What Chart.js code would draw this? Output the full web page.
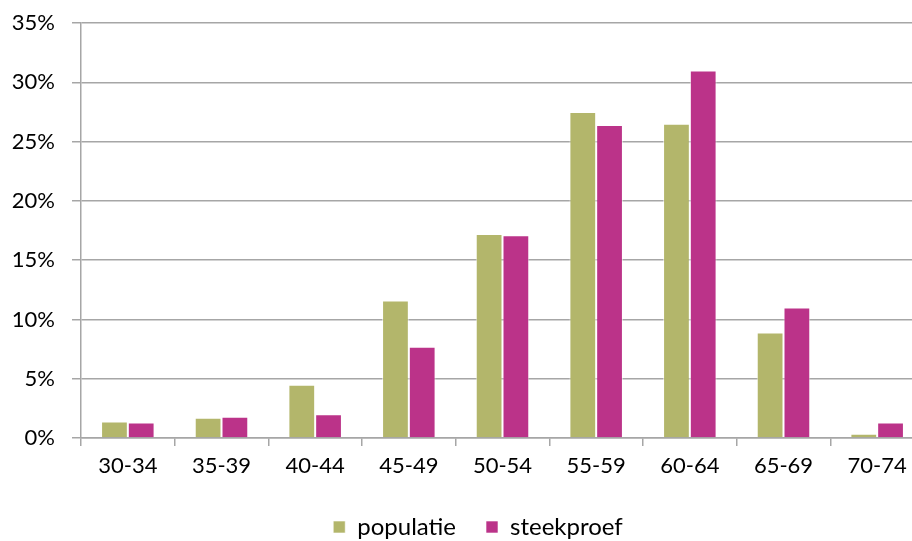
<!DOCTYPE html>
<html>
<head>
<meta charset="utf-8">
<script src="https://cdn.jsdelivr.net/npm/chart.js@4/dist/chart.umd.min.js"></script>
<style>
  html, body { margin: 0; padding: 0; background: #fff; overflow: hidden; }
  #wrap { width: 912px; height: 541px; overflow: hidden; }
  canvas { display: block; }
</style>
</head>
<body>
<div id="wrap"><canvas id="chart" width="924" height="550"></canvas></div>
<script>
// Age groups and the share (in %) of each group
const ageGroups = ['30-34', '35-39', '40-44', '45-49', '50-54', '55-59', '60-64', '65-69', '70-74'];
const populatie = [1.4, 1.7, 4.5, 11.6, 17.2, 27.5, 26.5, 8.9, 0.35];
const steekproef = [1.3, 1.8, 2.0, 7.7, 17.1, 26.4, 31.0, 11.0, 1.3];
const yTicks = [0, 5, 10, 15, 20, 25, 30, 35];

const FONT = 'Lato, "Open Sans", "DejaVu Sans", sans-serif';
const GRID = '#a6a6a6';

// Nudge the legend row a little to the right of the canvas centre
const legendShift = {
  id: 'legendShift',
  afterLayout(chart) {
    if (chart.legend) {
      chart.legend.left += 16;
      chart.legend.right += 16;
    }
  }
};

new Chart(document.getElementById('chart'), {
  type: 'bar',
  data: {
    labels: ageGroups,
    datasets: [
      {
        label: 'populatie',
        data: populatie,
        backgroundColor: '#b3b66b',
        borderColor: 'rgba(255,255,255,0.6)',
        borderWidth: 1,
        categoryPercentage: 2 / 3.5,
        barPercentage: 1
      },
      {
        label: 'steekproef',
        data: steekproef,
        backgroundColor: '#bb3389',
        borderColor: 'rgba(255,255,255,0.6)',
        borderWidth: 1,
        categoryPercentage: 2 / 3.5,
        barPercentage: 1
      }
    ]
  },
  plugins: [legendShift],
  options: {
    responsive: false,
    devicePixelRatio: 1,
    animation: false,
    layout: { padding: { top: 23, left: 0, right: 0, bottom: 1 } },
    plugins: {
      tooltip: { enabled: false },
      legend: {
        position: 'bottom',
        labels: {
          color: '#000',
          font: { family: FONT, size: 24 },
          boxWidth: 12,
          boxHeight: 12,
          padding: 30
        }
      }
    },
    scales: {
      x: {
        grid: {
          offset: true,
          drawOnChartArea: false,
          drawTicks: true,
          tickLength: 8,
          color: GRID,
          lineWidth: 1.5
        },
        border: { display: true, color: GRID, width: 1.5 },
        ticks: {
          color: '#000',
          font: { family: FONT, size: 22 },
          padding: 7,
          maxRotation: 0
        },
        afterFit: (scale) => { scale.height = 47; }
      },
      y: {
        min: 0,
        max: 35,
        afterBuildTicks: (scale) => { scale.ticks = yTicks.map(v => ({ value: v })); },
        grid: {
          color: GRID,
          lineWidth: 1.5,
          drawTicks: true,
          tickLength: 9
        },
        border: { display: true, color: GRID, width: 1.5 },
        ticks: {
          color: '#000',
          font: { family: FONT, size: 22 },
          padding: 17,
          callback: (v) => v + '%'
        },
        afterFit: (scale) => {
          scale.width = 81;
          scale.paddingTop = 0;
          scale.paddingBottom = 0;
        }
      }
    }
  }
});
</script>
</body>
</html>
